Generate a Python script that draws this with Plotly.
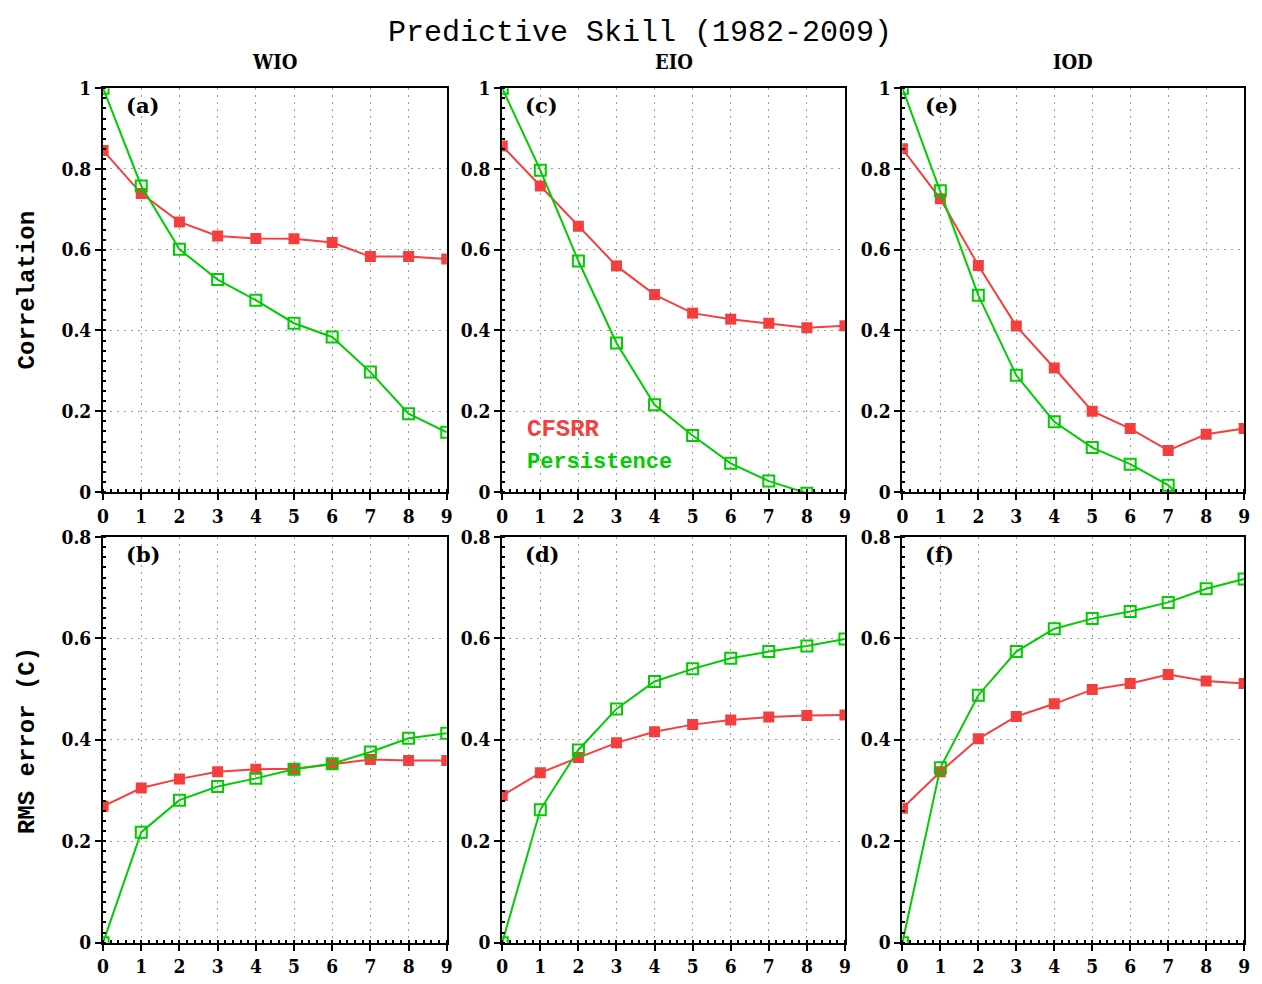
import plotly.graph_objects as go

leads = [0, 1, 2, 3, 4, 5, 6, 7, 8, 9]
regions = ["WIO", "EIO", "IOD"]

# Correlation
corr_cfsrr_wio = [0.846, 0.739, 0.669, 0.634, 0.628, 0.627, 0.618, 0.583, 0.583, 0.577]
corr_pers_wio = [1.0, 0.758, 0.601, 0.526, 0.475, 0.418, 0.384, 0.297, 0.194, 0.148]
corr_cfsrr_eio = [0.857, 0.758, 0.658, 0.560, 0.489, 0.443, 0.428, 0.418, 0.407, 0.412]
corr_pers_eio = [1.0, 0.797, 0.572, 0.369, 0.216, 0.140, 0.071, 0.027, -0.003, -0.04]
corr_cfsrr_iod = [0.850, 0.726, 0.561, 0.411, 0.307, 0.200, 0.157, 0.103, 0.143, 0.157]
corr_pers_iod = [1.0, 0.746, 0.487, 0.289, 0.174, 0.110, 0.069, 0.017, -0.073, -0.10]

# RMS error (C)
rms_cfsrr_wio = [0.269, 0.305, 0.323, 0.337, 0.342, 0.343, 0.352, 0.361, 0.359, 0.359]
rms_pers_wio = [0.0, 0.218, 0.281, 0.308, 0.324, 0.342, 0.353, 0.376, 0.403, 0.413]
rms_cfsrr_eio = [0.290, 0.335, 0.365, 0.394, 0.416, 0.430, 0.439, 0.445, 0.448, 0.449]
rms_pers_eio = [0.0, 0.262, 0.380, 0.461, 0.515, 0.540, 0.561, 0.574, 0.585, 0.599]
rms_cfsrr_iod = [0.265, 0.337, 0.402, 0.446, 0.471, 0.499, 0.511, 0.529, 0.516, 0.511]
rms_pers_iod = [0.0, 0.345, 0.488, 0.574, 0.619, 0.639, 0.653, 0.671, 0.698, 0.717]

corr_ticks = [0, 0.2, 0.4, 0.6, 0.8, 1]
corr_ticklabels = ["0", "0.2", "0.4", "0.6", "0.8", "1"]
rms_ticks = [0, 0.2, 0.4, 0.6, 0.8]
rms_ticklabels = ["0", "0.2", "0.4", "0.6", "0.8"]
panel_labels = [["(a)", "(c)", "(e)"], ["(b)", "(d)", "(f)"]]

RED = "#F53F3F"
GREEN = "#00CC00"
W, H = 1262, 984

x_dom = [(98, 445), (501, 847), (905, 1250)]
y_dom = [(79, 492), (538, 953)]

def px_to_x(p):
    return p / W

def px_to_y(p):
    return 1 - p / H

fig = go.Figure()

data = [
    [(corr_cfsrr_wio, corr_pers_wio), (corr_cfsrr_eio, corr_pers_eio), (corr_cfsrr_iod, corr_pers_iod)],
    [(rms_cfsrr_wio, rms_pers_wio), (rms_cfsrr_eio, rms_pers_eio), (rms_cfsrr_iod, rms_pers_iod)],
]

tick_font = dict(family="DejaVu Serif Condensed", size=19, color="black", weight="bold")
annotations = []
idx = 0
for r in range(2):
    for c in range(3):
        idx += 1
        xa = "x" if idx == 1 else f"x{idx}"
        ya = "y" if idx == 1 else f"y{idx}"
        cf, pe = data[r][c]
        fig.add_trace(go.Scatter(
            x=leads, y=cf, xaxis=xa, yaxis=ya, mode="lines+markers",
            line=dict(color=RED, width=2),
            marker=dict(symbol="square", size=11, color=RED),
            showlegend=False))
        fig.add_trace(go.Scatter(
            x=leads, y=pe, xaxis=xa, yaxis=ya, mode="lines+markers",
            line=dict(color=GREEN, width=2),
            marker=dict(symbol="square-open", size=11, color=GREEN, line=dict(width=2)),
            showlegend=False))
        xd = [px_to_x(x_dom[c][0]), px_to_x(x_dom[c][1])]
        yd = [px_to_y(y_dom[r][1]), px_to_y(y_dom[r][0])]
        xkey = "xaxis" if idx == 1 else f"xaxis{idx}"
        ykey = "yaxis" if idx == 1 else f"yaxis{idx}"
        fig.layout[xkey] = dict(
            domain=xd, anchor=ya, range=[0, 9], tickvals=leads,
            ticktext=[str(v) for v in leads],
            showline=True, mirror=True, linecolor="black", linewidth=2,
            ticks="outside", ticklen=6, tickwidth=2, tickcolor="black",
            tickfont=tick_font, showgrid=True, gridcolor="#9a9a9a",
            griddash="2px,5px", gridwidth=1.2, zeroline=False,
            minor=dict(dtick=0.2, ticks="inside", ticklen=3, tickwidth=1.5,
                       tickcolor="black", showgrid=False),
        )
        if r == 0:
            yr, tv, tt, mdt = [0, 1], corr_ticks, corr_ticklabels, 0.025
        else:
            yr, tv, tt, mdt = [0, 0.8], rms_ticks, rms_ticklabels, 0.02
        fig.layout[ykey] = dict(
            domain=yd, anchor=xa, range=yr, tickvals=tv, ticktext=tt,
            showline=True, mirror=True, linecolor="black", linewidth=2,
            ticks="outside", ticklen=6, tickwidth=2, tickcolor="black",
            tickfont=tick_font, showgrid=True, gridcolor="#9a9a9a",
            griddash="2px,5px", gridwidth=1.2, zeroline=False,
            minor=dict(dtick=mdt, ticks="inside", ticklen=3, tickwidth=1.5,
                       tickcolor="black", showgrid=False),
        )
        annotations.append(dict(
            x=0.06, y=0.993, xref=f"{xa} domain", yref=f"{ya} domain",
            text=f"<b>{panel_labels[r][c]}</b>", showarrow=False,
            xanchor="left", yanchor="top",
            font=dict(family="DejaVu Serif", size=21, color="black")))

# Title
annotations.append(dict(
    x=px_to_x(640), y=px_to_y(22), xref="paper", yref="paper",
    text="Predictive Skill (1982-2009)", showarrow=False,
    xanchor="center", yanchor="middle",
    font=dict(family="Liberation Mono", size=30, color="black")))

# Column headers
for c, name in enumerate(regions):
    annotations.append(dict(
        x=px_to_x((x_dom[c][0] + x_dom[c][1]) / 2), y=px_to_y(52),
        xref="paper", yref="paper", text=f"<b>{name}</b>", showarrow=False,
        xanchor="center", yanchor="middle",
        font=dict(family="DejaVu Serif Condensed", size=20, color="black")))

# Row labels
annotations.append(dict(
    x=px_to_x(22), y=px_to_y(286), xref="paper", yref="paper",
    text="<b>Correlation</b>", textangle=-90, showarrow=False,
    xanchor="center", yanchor="middle",
    font=dict(family="Liberation Mono", size=24, color="black")))
annotations.append(dict(
    x=px_to_x(22), y=px_to_y(746), xref="paper", yref="paper",
    text="<b>RMS error (C)</b>", textangle=-90, showarrow=False,
    xanchor="center", yanchor="middle",
    font=dict(family="Liberation Mono", size=24, color="black")))

# Legend text in panel (c)
annotations.append(dict(
    x=px_to_x(524), y=px_to_y(428), xref="paper", yref="paper",
    text="<b>CFSRR</b>", showarrow=False, xanchor="left", yanchor="middle",
    font=dict(family="Liberation Mono", size=24, color=RED)))
annotations.append(dict(
    x=px_to_x(524), y=px_to_y(462), xref="paper", yref="paper",
    text="<b>Persistence</b>", showarrow=False, xanchor="left", yanchor="middle",
    font=dict(family="Liberation Mono", size=22, color=GREEN)))

fig.update_layout(
    width=W, height=H, margin=dict(l=0, r=0, t=0, b=0),
    paper_bgcolor="white", plot_bgcolor="white",
    annotations=annotations, showlegend=False,
)

fig.write_html("out.html", config={"displayModeBar": False},
               post_script="document.body.style.margin='0';")
